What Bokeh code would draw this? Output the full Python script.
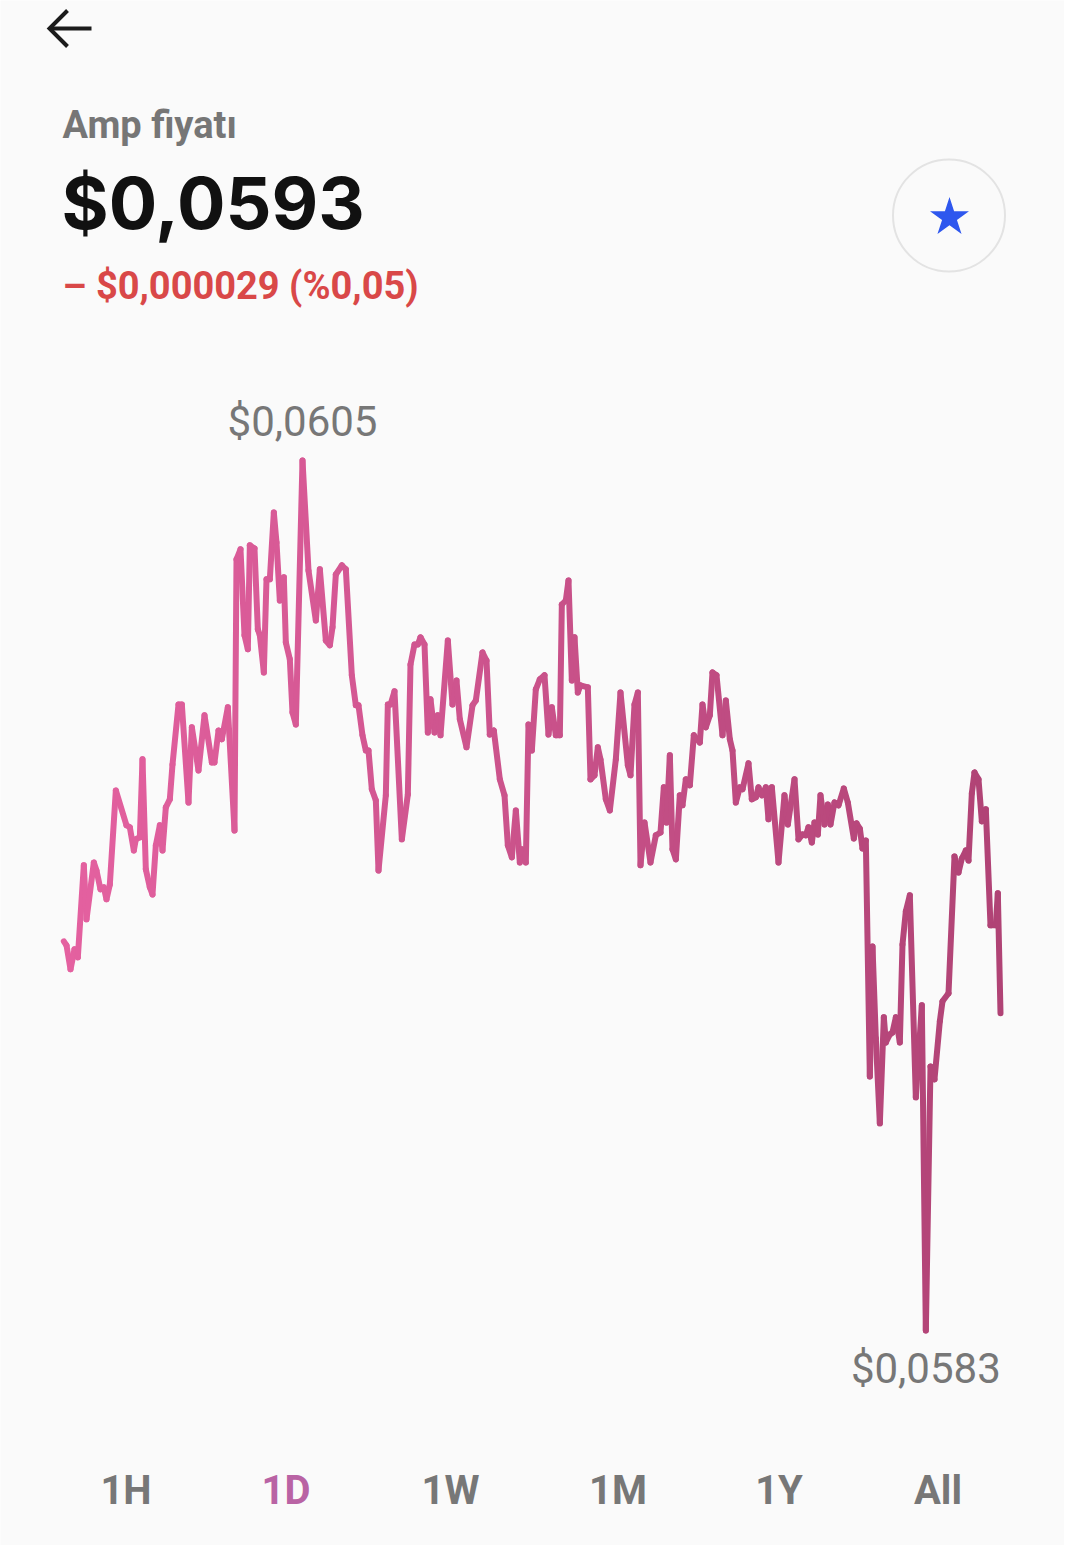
from bokeh.plotting import figure
from bokeh.models import Range1d
from bokeh.core.properties import value
from bokeh.embed import file_html
from bokeh.resources import INLINE

# ---------------- data (1D chart, minutes since start / price in $) ----------------
minutes = [2, 6, 12, 18, 23, 32, 36, 47, 51, 57, 62, 66, 71, 80, 96, 101, 107, 110, 116, 120,
           125, 131, 135, 140, 146, 150, 155, 161, 165, 174, 179, 189, 194, 204, 213, 224, 228, 234, 239, 248, 258,
           261, 267, 273, 278, 281, 288, 293, 296, 302, 306, 311, 317, 321, 326, 332, 335, 341, 345, 350, 360,
           369, 380, 386, 395, 401, 405, 410, 419, 425, 434, 440, 444, 450, 455, 459, 464, 470, 474, 485, 488,
           492, 498, 509, 518, 522, 528, 533, 537,
           543, 548, 552, 558, 563, 567, 578, 585, 591, 596, 606, 615, 620, 630, 636, 641, 647, 656, 663, 668,
           674, 680, 686, 689, 695, 699, 704, 710, 716, 723, 729, 734, 740, 746, 749, 755, 759, 764, 768, 773,
           777, 788, 792, 798, 803, 807, 815, 821, 830, 837, 848, 852, 858, 863, 867, 873, 882, 890, 897, 902,
           906, 911, 915, 920, 926, 930, 935, 941, 947, 956, 960, 965, 971, 975, 981, 990, 995, 1001, 1005, 1010,
           1016, 1020, 1029, 1034, 1040, 1044, 1049, 1055, 1059, 1064, 1074, 1083, 1088, 1098, 1104, 1110, 1115,
           1119, 1124, 1128, 1133, 1137, 1143, 1148, 1152, 1158, 1164, 1172, 1178, 1187, 1191, 1196, 1200, 1205,
           1211, 1215, 1220, 1226, 1232, 1235, 1241, 1245, 1250, 1256, 1260, 1265, 1271, 1280, 1289, 1295, 1302,
           1308, 1316, 1320, 1329, 1338, 1344, 1349, 1355, 1359, 1364, 1368, 1374, 1379, 1385, 1392, 1400, 1403, 1407]

prices = [0.059298, 0.059288, 0.059228, 0.059278, 0.059258, 0.059488, 0.059353, 0.059495, 0.059475, 0.059428,
          0.059433, 0.059403, 0.059440, 0.059675, 0.059588, 0.059583, 0.059525, 0.059553, 0.059558, 0.059753,
          0.059478, 0.059433, 0.059415, 0.059538, 0.059588, 0.059525, 0.059633, 0.059653, 0.059740, 0.059890,
          0.059890, 0.059645, 0.059833, 0.059725, 0.059863, 0.059745, 0.059745, 0.059825, 0.059803, 0.059883,
          0.059575,
          0.060253, 0.060278, 0.060063, 0.060028, 0.060288, 0.060280, 0.060078, 0.060063, 0.059970, 0.060203,
          0.060203, 0.060370, 0.060295, 0.060150, 0.060208, 0.060045, 0.060003, 0.059870, 0.059840, 0.060500,
          0.060225, 0.060100, 0.060228, 0.060050, 0.060038, 0.060083, 0.060215, 0.060238, 0.060228, 0.059963,
          0.059888, 0.059888, 0.059813, 0.059775, 0.059775, 0.059678, 0.059650, 0.059475, 0.059663, 0.059890,
          0.059890, 0.059923, 0.059553, 0.059665, 0.059990, 0.060040, 0.060040, 0.060058,
          0.060040, 0.059820, 0.059903, 0.059820, 0.059863, 0.059813, 0.060050, 0.059890, 0.059950, 0.059853,
          0.059783, 0.059888, 0.059900, 0.060020, 0.060000, 0.059815, 0.059825, 0.059703, 0.059663, 0.059538,
          0.059508, 0.059625, 0.059495, 0.059528, 0.059495, 0.059840, 0.059775, 0.059928, 0.059953, 0.059963,
          0.059815, 0.059883, 0.059813, 0.059813, 0.060140, 0.060150, 0.060200, 0.059950, 0.060058, 0.059920,
          0.059938, 0.059933, 0.059703, 0.059713, 0.059783, 0.059753, 0.059653, 0.059625, 0.059753, 0.059920,
          0.059738, 0.059713, 0.059890, 0.059920, 0.059488, 0.059595, 0.059495, 0.059563, 0.059570, 0.059683,
          0.059595, 0.059763, 0.059528, 0.059503, 0.059663, 0.059638, 0.059703, 0.059688, 0.059813, 0.059795,
          0.059890, 0.059833, 0.059863, 0.059970, 0.059963, 0.059813, 0.059900, 0.059803, 0.059775, 0.059645,
          0.059683, 0.059678, 0.059743, 0.059653, 0.059658, 0.059683, 0.059663, 0.059683, 0.059603, 0.059683,
          0.059495, 0.059663, 0.059590, 0.059703, 0.059553, 0.059565, 0.059563, 0.059583, 0.059545, 0.059595,
          0.059565, 0.059663, 0.059590, 0.059640, 0.059590, 0.059645, 0.059638, 0.059680, 0.059645, 0.059555,
          0.059593, 0.059580, 0.059530, 0.059550,
          0.058960, 0.059285, 0.059055, 0.058843, 0.059108, 0.059045, 0.059065, 0.059070, 0.059108, 0.059045,
          0.059290, 0.059373, 0.059413, 0.058908, 0.059138, 0.058325, 0.058985, 0.058953, 0.059098, 0.059148,
          0.059168, 0.059510, 0.059470, 0.059505, 0.059525, 0.059500, 0.059668, 0.059720, 0.059703, 0.059598,
          0.059628, 0.059338, 0.059338, 0.059418, 0.059118]

title_text = "Amp fiyatı"
price_text = "$0,0593"
change_text = "– $0,000029 (%0,05)"
period_labels = ["1H", "1D", "1W", "1M", "1Y", "All"]
selected_period = "1D"

# ---------------- layout helpers (page pixels -> data coordinates) ----------------
W, H = 1064, 1545
K = 0.35  # baseline compensation (fraction of font size)


def sx(px):
    return (px - 70) * 1.5


def sy(py):
    return (61670 - 2.5 * py) * 1e-6


def base(py, size):
    return sy(py - K * size)


BG = "#fafafa"
p = figure(width=W, height=H, x_range=Range1d(sx(8), sx(8 + W)), y_range=Range1d(sy(8 + H), sy(8)),
           output_backend="svg", toolbar_location=None, min_border=0,
           x_axis_location=None, y_axis_location=None,
           background_fill_color=BG, border_fill_color=BG, outline_line_color=None)
p.grid.visible = False

# ---------------- gradient price line ----------------
c0 = (228, 97, 160)
c1 = (176, 67, 117)
t0, t1 = minutes[0], minutes[-1]
colors = []
for i in range(len(minutes) - 1):
    f = ((minutes[i] + minutes[i + 1]) / 2 - t0) / (t1 - t0)
    r, g, b = (round(c0[k] + (c1[k] - c0[k]) * f) for k in range(3))
    colors.append(f"#{r:02x}{g:02x}{b:02x}")
p.segment(x0=minutes[:-1], y0=prices[:-1], x1=minutes[1:], y1=prices[1:],
          line_color=colors, line_width=6, line_cap="round")

# ---------------- max / min labels ----------------
def fmt(v):
    return "$" + f"{v:.4f}".replace(".", ",")


imax = prices.index(max(prices))
imin = prices.index(min(prices))
LAB = 42
p.text(x=[minutes[imax]], y=[prices[imax]], text=[fmt(prices[imax])], text_font=value("Roboto"),
       text_font_size=f"{LAB}px", text_color="#777777", text_align="center", text_baseline="alphabetic",
       y_offset=-24 - K * LAB)
p.text(x=[minutes[imin]], y=[prices[imin]], text=[fmt(prices[imin])], text_font=value("Roboto"),
       text_font_size=f"{LAB}px", text_color="#777777", text_align="center", text_baseline="alphabetic",
       y_offset=53 - K * LAB)

# ---------------- header ----------------
# back arrow
p.line(x=[sx(57), sx(99)], y=[sy(36), sy(36)], line_color="#1b1b1b", line_width=4)
p.line(x=[sx(75), sx(57), sx(75)], y=[sy(18), sy(36), sy(54)], line_color="#1b1b1b", line_width=4,
       line_join="miter")

p.text(x=[sx(70)], y=[base(146, 38)], text=[title_text], text_font=value("Roboto"), text_font_size="38px",
       text_font_style="bold", text_color="#767676", text_baseline="alphabetic")
p.text(x=[sx(69)], y=[base(235, 72)], text=[price_text], text_font=value("Inter"), text_font_size="72px",
       text_font_style="bold", text_color="#111111", text_baseline="alphabetic")
p.text(x=[sx(70)], y=[base(307, 38)], text=[change_text], text_font=value("Roboto"), text_font_size="38px",
       text_font_style="bold", text_color="#d94848", text_baseline="alphabetic")

# favourite button
p.scatter(x=[sx(956.5)], y=[sy(223)], marker="circle", size=112, fill_color=None,
          line_color="#e3e3e3", line_width=2)
p.scatter(x=[sx(957)], y=[sy(225)], marker="star", size=41, fill_color="#2e57ee", line_color=None)

# ---------------- period selector ----------------
tab_x = [133.5, 293.5, 458, 625.5, 786.5, 945.5]
tab_colors = ["#b963a4" if t == selected_period else "#777777" for t in period_labels]
p.text(x=[sx(v) for v in tab_x], y=[base(1512, 40)] * len(tab_x), text=period_labels,
       text_font=value("Roboto"), text_font_size="40px", text_font_style="bold", text_color=tab_colors,
       text_align="center", text_baseline="alphabetic")

open("out.html", "w").write(file_html(p, INLINE))
